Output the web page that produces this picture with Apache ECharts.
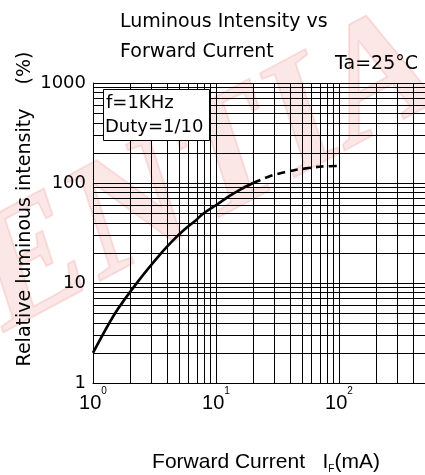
<!DOCTYPE html>
<html><head><meta charset="utf-8">
<script src="https://cdn.jsdelivr.net/npm/echarts@6/dist/echarts.min.js"></script>
<style>html,body{margin:0;padding:0;background:#fff}#c{width:425px;height:475px}</style>
</head><body><div id="c"></div>
<script>
// Forward current (mA) and relative luminous intensity (%)
const currentSolid   = [1, 1.5, 2.3, 3.6, 4.6, 5.6, 6.8, 7.8, 10.4, 12.6, 16, 20];
const intensitySolid = [2, 4.9, 10.2, 20, 27.6, 34.6, 42, 49, 62, 73, 87, 100];
const currentDashed   = [20, 28, 36, 44, 72, 100];
const intensityDashed = [100, 118, 128, 135, 146, 148];
// minor grid values
const xGridMinor = [2,3,4,5,6,7,8,9,20,30,40,50,60,70,80,90,200,300,400];
const yGridMinor = [2,3,4,5,6,7,8,9,20,30,40,50,60,70,80,90,200,300,400,500,600,700,800,900];
const yTicks = [1, 10, 100, 1000];
const titleLines = ['Luminous Intensity vs', 'Forward Current'];
const noteLines = ['f=1KHz', 'Duty=1/10'];
const condition = 'Ta=25°C';

const chart = echarts.init(document.getElementById('c'), null, {renderer: 'canvas'});
const zip = (a, b) => a.map((v, i) => [v, b[i]]);
const DJ = 'DejaVu Sans';
const LS = 'Liberation Sans';

const option = {
  backgroundColor: '#fff',
  animation: false,
  title: {
    text: titleLines.join('\n'),
    left: 120, top: 7, padding: 0,
    textStyle: {fontFamily: DJ, fontSize: 19, fontWeight: 'normal', color: '#000', lineHeight: 30}
  },
  grid: {left: 93, right: 0, top: 83, bottom: 92, containLabel: false, outerBoundsMode: 'none'},
  xAxis: {
    type: 'log', logBase: 10, min: 1, max: 500,
    axisLine: {show: true, lineStyle: {color: '#000', width: 1}},
    axisTick: {show: false},
    splitLine: {show: true, lineStyle: {color: '#000', width: 1}},
    axisLabel: {
      margin: 3,
      formatter: function (v) {
        const l = Math.log10(v), e = Math.round(l);
        if (Math.abs(l - e) > 1e-6) return '';
        return '{b|10}{s|' + e + '}';
      },
      rich: {
        b: {fontFamily: LS, fontSize: 20, color: '#000', lineHeight: 34},
        s: {fontFamily: LS, fontSize: 10, color: '#000', lineHeight: 11, verticalAlign: 'top'}
      }
    }
  },
  yAxis: {
    type: 'log', logBase: 10, min: 1, max: 1000,
    axisLine: {show: true, lineStyle: {color: '#000', width: 1}},
    axisTick: {show: false},
    splitLine: {show: true, lineStyle: {color: '#000', width: 1}},
    axisLabel: {
      margin: 7, fontFamily: DJ, fontSize: 18, color: '#000',
      formatter: function (v) { return yTicks.indexOf(Math.round(v)) >= 0 ? String(Math.round(v)) : ''; }
    }
  },
  series: [
    {
      name: 'grid', type: 'line', z: 1, silent: true,
      data: [[1, 1]], showSymbol: false, symbol: 'none', lineStyle: {width: 0},
      markLine: {
        silent: true, symbol: ['none', 'none'], animation: false,
        label: {show: false},
        lineStyle: {color: '#000', width: 1, type: 'solid'},
        emphasis: {disabled: true},
        data: xGridMinor.map(v => ({xAxis: v})).concat(yGridMinor.map(v => ({yAxis: v})))
      }
    },
    {
      name: 'solid', type: 'line', z: 5, smooth: 0.3, showSymbol: false, symbol: 'none',
      data: zip(currentSolid, intensitySolid),
      lineStyle: {color: '#000', width: 2.6}
    },
    {
      name: 'dashed', type: 'line', z: 5, smooth: 0.3, showSymbol: false, symbol: 'none',
      data: zip(currentDashed, intensityDashed),
      lineStyle: {color: '#000', width: 2.6, type: [8, 5]}
    }
  ],
  graphic: [
    {
      type: 'text', z: -10, x: -32, y: 303, rotation: 0.49, silent: true,
      style: {
        text: 'CONFIDENTIAL', font: 'italic bold 165px "Liberation Serif"',
        fill: 'rgba(232,70,70,0.13)', stroke: 'rgba(220,40,40,0.12)', lineWidth: 2,
        align: 'center', verticalAlign: 'middle'
      }
    },
    {
      type: 'rect', z: 10, shape: {x: 103.5, y: 89.5, width: 106, height: 51},
      style: {fill: '#fff', stroke: '#000', lineWidth: 1}
    },
    {
      type: 'text', z: 11, x: 106, y: 103,
      style: {text: noteLines[0], fontFamily: DJ, fontSize: 18, fill: '#000', verticalAlign: 'middle'}
    },
    {
      type: 'text', z: 11, x: 105, y: 127,
      style: {text: noteLines[1], fontFamily: DJ, fontSize: 18, fill: '#000', verticalAlign: 'middle'}
    },
    {
      type: 'text', z: 11, x: 418, y: 64,
      style: {text: condition, fontFamily: DJ, fontSize: 19, fill: '#000', align: 'right', verticalAlign: 'middle'}
    },
    {
      type: 'text', z: 11, x: 25, y: 209, rotation: Math.PI / 2,
      style: {text: 'Relative luminous intensity    (%)', fontFamily: DJ, fontSize: 19, fill: '#000',
              align: 'center', verticalAlign: 'middle'}
    },
    {
      type: 'text', z: 11, x: 266, y: 462,
      style: {
        text: '{a|Forward Current   I}{s|F}{a|(mA)}',
        align: 'center', verticalAlign: 'middle',
        rich: {
          a: {fontFamily: LS, fontSize: 21, fill: '#000', color: '#000', lineHeight: 24},
          s: {fontFamily: LS, fontSize: 10, fill: '#000', color: '#000', lineHeight: 10, verticalAlign: 'bottom'}
        }
      }
    }
  ]
};
chart.setOption(option);
</script>
</body></html>
